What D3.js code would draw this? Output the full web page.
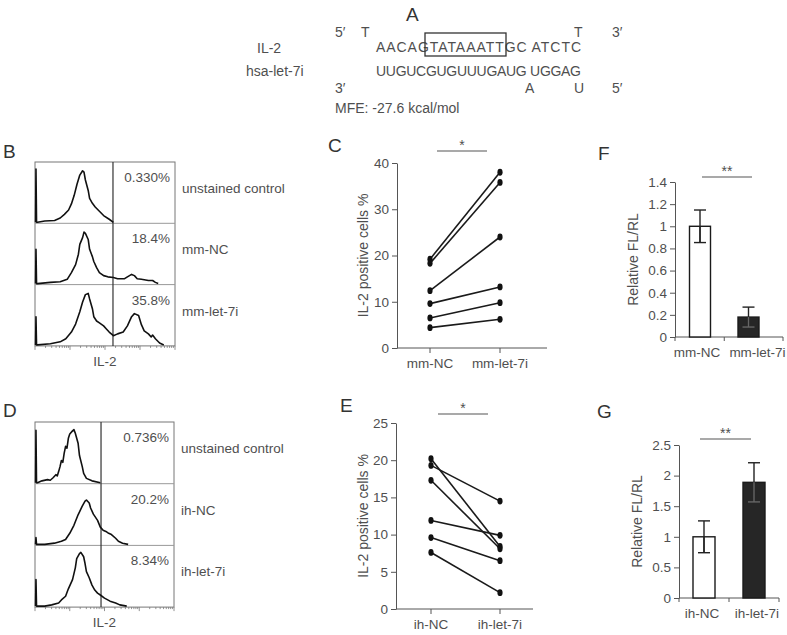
<!DOCTYPE html>
<html><head><meta charset="utf-8">
<script src="https://cdn.jsdelivr.net/npm/d3@7"></script>
<style>
body{margin:0;background:#fff;}
svg{font-family:"Liberation Sans",Arial,sans-serif;}
</style></head>
<body><svg id="c" width="787" height="635"></svg>
<script>
// ---------------- DATA ----------------
const seqTarget = "AACAGTATAAATTGC ATCTC";
const seqMiR = "UUGUCGUGUUUGAUG UGGAG";
const mfeLabel = "MFE: -27.6 kcal/mol";

// Flow histograms: [relative log fluorescence 0-100, relative count 0-100]
const bGate = 55.7;
const bRows = ["unstained control", "mm-NC", "mm-let-7i"];
const bPct = ["0.330%", "18.4%", "35.8%"];
const bHist1 = [[0.4,0],[0.7,87],[1.1,0],[1.8,0],[7,2],[14,3],[18,7],[21,13],[24,20],[26,30],[28,44],[30,62],[32,77],[34,84],[35,82],[36,69],[38,52],[39,39],[41,31],[43,25],[46,18],[49,11],[53,5],[56,0]];
const bHist2 = [[0.4,0],[0.7,56],[1.1,0],[1.8,0],[11,2],[18,3],[23,7],[26,18],[29,31],[31,48],[32,64],[34,75],[35,84],[36,82],[38,72],[39,56],[41,44],[42,36],[44,26],[46,18],[49,13],[52,11],[56,10],[59,8],[64,8],[66,11],[69,15],[71,13],[73,8],[76,7],[81,5],[84,5],[86,2],[88,0]];
const bHist3 = [[0.4,0],[0.7,46],[1.1,0],[1.8,0],[11,2],[18,5],[22,10],[26,21],[29,34],[32,54],[34,70],[36,82],[38,84],[39,75],[41,59],[42,46],[44,39],[46,36],[49,31],[51,26],[53,21],[56,15],[59,18],[63,21],[66,31],[69,46],[71,51],[74,48],[76,33],[78,23],[81,18],[83,13],[84,16],[86,10],[89,3],[92,0]];

const dGate = 47.5;
const dRows = ["unstained control", "ih-NC", "ih-let-7i"];
const dPct = ["0.736%", "20.2%", "8.34%"];
const dHist1 = [[0.4,0],[0.7,85],[1.1,0],[1.8,0],[5,3],[9,5],[11,4],[13,8],[15,13],[16,11],[17,18],[18,26],[19,36],[20,33],[21,48],[22,59],[23,56],[24,72],[25,79],[27,84],[28,86],[29,80],[31,64],[32,44],[34,26],[35,15],[37,7],[41,3],[47,0]];
const dHist2 = [[0.4,0],[0.7,11],[1.1,0],[1.8,0],[7,0],[14,2],[19,5],[22,8],[25,18],[28,31],[31,48],[34,62],[36,70],[37,72],[39,67],[40,59],[42,49],[45,39],[47,28],[49,23],[51,21],[53,18],[55,16],[58,10],[60,5],[63,2],[67,0]];
const dHist3 = [[0.4,0],[0.7,43],[1.1,0],[1.8,0],[7,0],[12,2],[17,5],[19,10],[22,16],[24,28],[27,43],[29,62],[30,77],[32,85],[33,87],[35,80],[36,69],[37,56],[39,46],[41,34],[43,26],[45,21],[47,18],[50,13],[54,8],[58,5],[61,2],[66,0]];

// Paired IL-2 positive cells %
const cCats = ["mm-NC", "mm-let-7i"];
const cNC = [19.2, 18.3, 12.4, 9.6, 6.5, 4.4];
const cLet = [38.0, 35.8, 24.0, 13.2, 9.8, 6.2];
const cTicks = [0, 10, 20, 30, 40];

const eCats = ["ih-NC", "ih-let-7i"];
const eNC = [20.2, 19.3, 17.3, 11.9, 9.6, 7.6];
const eLet = [8.4, 14.5, 8.1, 9.9, 6.5, 2.2];
const eTicks = [0, 5, 10, 15, 20, 25];

// Luciferase Relative FL/RL
const fCats = ["mm-NC", "mm-let-7i"];
const fVals = [1.0, 0.18];
const fErr = [0.147, 0.09];
const fTicks = [0, 0.2, 0.4, 0.6, 0.8, 1, 1.2, 1.4];

const gCats = ["ih-NC", "ih-let-7i"];
const gVals = [1.0, 1.89];
const gErr = [0.26, 0.32];
const gTicks = [0, 0.5, 1, 1.5, 2, 2.5];

// ---------------- DRAW ----------------
const svg = d3.select("#c");
const TXT = "#4f4f4f";
const AX = "#555";

function letter(t, x, y) {
  svg.append("text").attr("x", x).attr("y", y).attr("font-size", 19).attr("fill", "#333").text(t);
}
function txt(t, x, y, size, anchor, g) {
  return (g || svg).append("text").attr("x", x).attr("y", y).attr("font-size", size)
    .attr("fill", TXT).attr("text-anchor", anchor || "start").text(t);
}

// ---- Panel A ----
letter("A", 406, 21);
txt("5\u2032", 335, 37, 14); txt("T", 361, 37, 14);
txt("T", 574, 37, 14); txt("3\u2032", 612, 37, 14);
txt("IL-2", 257, 53, 14);
txt(seqTarget, 376, 52, 14).attr("textLength", 205).attr("lengthAdjust", "spacing");
txt("hsa-let-7i", 246, 76, 14);
txt(seqMiR, 376, 76, 14).attr("textLength", 205).attr("lengthAdjust", "spacing");
txt("3\u2032", 335, 93, 14); txt("A", 525, 93, 14);
txt("U", 574, 93, 14); txt("5\u2032", 612, 93, 14);
txt(mfeLabel, 335, 113, 14);
svg.append("rect").attr("x", 425).attr("y", 33).attr("width", 81).attr("height", 23)
  .attr("fill", "none").attr("stroke", "#333").attr("stroke-width", 1.3);

// ---- Flow histogram panels ----
function flowPanel(opts) {
  const {x0, x1, y0, rowH, gate, hists, pcts, rows, label, lx, ly} = opts;
  letter(label, lx, ly);
  const x = d3.scaleLinear().domain([0, 100]).range([x0, x1]);
  const g = svg.append("g");
  const yBottom = y0 + rowH * 3;
  g.append("rect").attr("x", x0).attr("y", y0).attr("width", x1 - x0).attr("height", rowH * 3)
    .attr("fill", "none").attr("stroke", "#777").attr("stroke-width", 1);
  for (let i = 1; i < 3; i++) {
    g.append("line").attr("x1", x0).attr("x2", x1).attr("y1", y0 + rowH * i).attr("y2", y0 + rowH * i)
      .attr("stroke", "#999").attr("stroke-width", 1);
  }
  g.append("line").attr("x1", x(gate)).attr("x2", x(gate)).attr("y1", y0).attr("y2", yBottom)
    .attr("stroke", "#333").attr("stroke-width", 1.2);
  hists.forEach((h, i) => {
    const base = y0 + rowH * (i + 1) - 1;
    const y = d3.scaleLinear().domain([0, 100]).range([base, base - rowH]);
    g.append("path").datum(h).attr("fill", "none").attr("stroke", "#111").attr("stroke-width", 1.6)
      .attr("stroke-linejoin", "round")
      .attr("d", d3.line().x(d => x(d[0])).y(d => y(d[1])));
    txt(pcts[i], x1 - 5, y0 + rowH * i + 20, 13.5, "end");
    txt(rows[i], x1 + 7, y0 + rowH * i + 31, 13.5, "start");
  });
  // log-scale ticks on bottom
  const lg = d3.scaleLinear().domain([0, 4]).range([x0, x1]);
  for (let dec = 0; dec < 4; dec++) {
    for (let m = 1; m <= 9; m++) {
      const v = dec + Math.log10(m);
      g.append("line").attr("x1", lg(v)).attr("x2", lg(v)).attr("y1", yBottom)
        .attr("y2", yBottom + (m === 1 ? 4 : 2)).attr("stroke", "#777").attr("stroke-width", 0.8);
    }
  }
  g.append("line").attr("x1", x1).attr("x2", x1).attr("y1", yBottom).attr("y2", yBottom + 4)
    .attr("stroke", "#777").attr("stroke-width", 0.8);
  txt("IL-2", (x0 + x1) / 2, yBottom + 20, 13.5, "middle");
}
flowPanel({x0: 35, x1: 175, y0: 162, rowH: 61.3, gate: bGate, hists: [bHist1, bHist2, bHist3],
  pcts: bPct, rows: bRows, label: "B", lx: 3, ly: 158});
flowPanel({x0: 35, x1: 174, y0: 422, rowH: 61.7, gate: dGate, hists: [dHist1, dHist2, dHist3],
  pcts: dPct, rows: dRows, label: "D", lx: 3, ly: 417});

// ---- Paired dot panels ----
function pairedPanel(o) {
  letter(o.label, o.lx, o.ly);
  const g = svg.append("g");
  const x = d3.scalePoint().domain(o.cats).range([o.cx0, o.cx1]);
  const y = d3.scaleLinear().domain([0, d3.max(o.ticks)]).range([o.yb, o.yt]);
  const ax = g.append("g").attr("transform", `translate(${o.ax},0)`)
    .call(d3.axisLeft(y).tickValues(o.ticks).tickSize(5).tickSizeOuter(0).tickPadding(3));
  ax.selectAll("text").attr("font-size", 13.5).attr("fill", TXT).attr("font-family", "Liberation Sans, Arial, sans-serif");
  ax.selectAll("line,path").attr("stroke", AX);
  g.append("line").attr("x1", o.ax).attr("x2", o.xend).attr("y1", o.yb).attr("y2", o.yb).attr("stroke", AX);
  o.cats.forEach(c => {
    g.append("line").attr("x1", x(c)).attr("x2", x(c)).attr("y1", o.yb).attr("y2", o.yb + 5).attr("stroke", AX);
    txt(c, x(c), o.yb + 20, 13.5, "middle", g);
  });
  o.a.forEach((v, i) => {
    g.append("line").attr("x1", x(o.cats[0])).attr("x2", x(o.cats[1]))
      .attr("y1", y(v)).attr("y2", y(o.b[i])).attr("stroke", "#1a1a1a").attr("stroke-width", 1.6);
  });
  [o.a, o.b].forEach((arr, k) => arr.forEach(v => {
    g.append("ellipse").attr("cx", x(o.cats[k])).attr("cy", y(v)).attr("rx", 2.6).attr("ry", 3.4).attr("fill", "#111");
  }));
  g.append("line").attr("x1", o.s0).attr("x2", o.s1).attr("y1", o.sy).attr("y2", o.sy).attr("stroke", "#555").attr("stroke-width", 1.2);
  txt("*", (o.s0 + o.s1) / 2, o.sy - 1, 14, "middle", g);
  txt("IL-2 positive cells %", 0, 0, 14, "middle", g)
    .attr("transform", `translate(${o.tx},${(o.yb + o.yt) / 2}) rotate(-90)`);
}
pairedPanel({label: "C", lx: 328, ly: 152, cats: cCats, a: cNC, b: cLet, ticks: cTicks,
  cx0: 430, cx1: 500, ax: 397, xend: 547, yb: 348, yt: 163, s0: 437, s1: 487, sy: 151, tx: 368});
pairedPanel({label: "E", lx: 340, ly: 412, cats: eCats, a: eNC, b: eLet, ticks: eTicks,
  cx0: 431, cx1: 500, ax: 396, xend: 533, yb: 609, yt: 423, s0: 438, s1: 488, sy: 414, tx: 368});

// ---- Bar panels ----
function barPanel(o) {
  letter(o.label, o.lx, o.ly);
  const g = svg.append("g");
  const x = d3.scalePoint().domain(o.cats).range([o.cx0, o.cx1]);
  const y = d3.scaleLinear().domain([0, d3.max(o.ticks)]).range([o.yb, o.yt]);
  const ax = g.append("g").attr("transform", `translate(${o.ax},0)`)
    .call(d3.axisLeft(y).tickValues(o.ticks).tickFormat(d3.format("~g")).tickSize(5).tickSizeOuter(0).tickPadding(3));
  ax.selectAll("text").attr("font-size", 13.5).attr("fill", TXT).attr("font-family", "Liberation Sans, Arial, sans-serif");
  ax.selectAll("line,path").attr("stroke", AX);
  g.append("line").attr("x1", o.ax).attr("x2", o.xend).attr("y1", o.yb).attr("y2", o.yb).attr("stroke", AX);
  [o.ax, (o.cx0 + o.cx1) / 2, o.xend].forEach(t =>
    g.append("line").attr("x1", t).attr("x2", t).attr("y1", o.yb).attr("y2", o.yb + 4).attr("stroke", AX));
  o.cats.forEach((c, i) => {
    const v = o.vals[i], e = o.err[i];
    g.append("rect").attr("x", x(c) - o.bw / 2).attr("y", y(v)).attr("width", o.bw).attr("height", o.yb - y(v))
      .attr("fill", i === 0 ? "#fff" : "#262626").attr("stroke", "#1a1a1a").attr("stroke-width", 1.4);
    const col = i === 0 ? "#222" : "#666";
    g.append("line").attr("x1", x(c)).attr("x2", x(c)).attr("y1", y(v + e)).attr("y2", y(Math.max(0, v - e))).attr("stroke", "#222").attr("stroke-width", 1.4);
    g.append("line").attr("x1", x(c)).attr("x2", x(c)).attr("y1", y(v)).attr("y2", y(Math.max(0, v - e))).attr("stroke", col).attr("stroke-width", 1.4);
    g.append("line").attr("x1", x(c) - 6).attr("x2", x(c) + 6).attr("y1", y(v + e)).attr("y2", y(v + e)).attr("stroke", "#222").attr("stroke-width", 1.4);
    g.append("line").attr("x1", x(c) - 6).attr("x2", x(c) + 6).attr("y1", y(v - e)).attr("y2", y(v - e)).attr("stroke", col).attr("stroke-width", 1.4);
    txt(c, x(c) + o.ldx[i], o.yb + 20, 13.5, "middle", g);
  });
  g.append("line").attr("x1", o.s0).attr("x2", o.s1).attr("y1", o.sy).attr("y2", o.sy).attr("stroke", "#555").attr("stroke-width", 1.2);
  txt("**", (o.s0 + o.s1) / 2, o.sy - 1, 14, "middle", g);
  txt("Relative FL/RL", 0, 0, 14, "middle", g)
    .attr("transform", `translate(${o.tx},${(o.yb + o.yt) / 2}) rotate(-90)`);
}
barPanel({label: "F", lx: 598, ly: 160, cats: fCats, vals: fVals, err: fErr, ticks: fTicks,
  cx0: 700, cx1: 748.5, bw: 21, ax: 675, xend: 783, yb: 337, yt: 182, s0: 702, s1: 752, sy: 177, tx: 638, ldx: [-3, 9]});
barPanel({label: "G", lx: 597, ly: 418, cats: gCats, vals: gVals, err: gErr, ticks: gTicks,
  cx0: 704, cx1: 754, bw: 22, ax: 679, xend: 779, yb: 598, yt: 445, s0: 700, s1: 751, sy: 439, tx: 642, ldx: [-2, 3]});
</script></body></html>
